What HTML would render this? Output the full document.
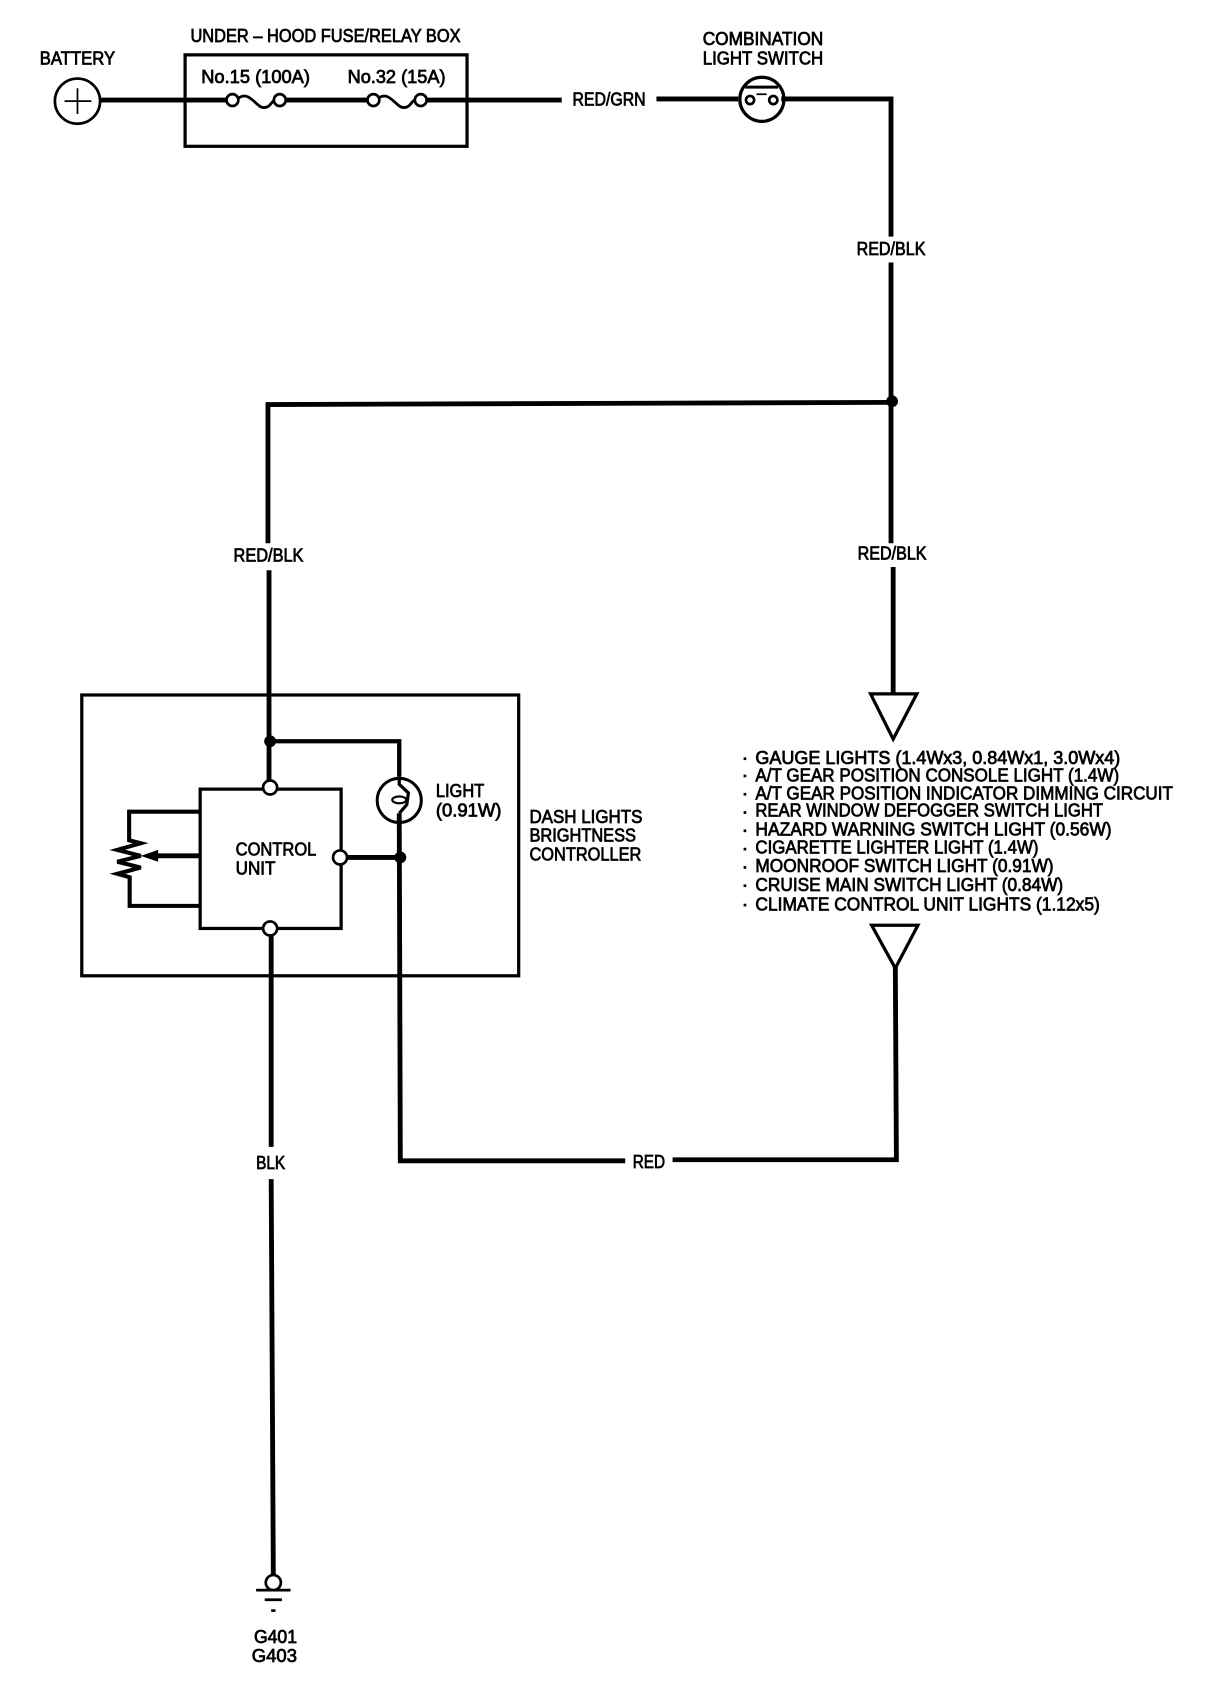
<!DOCTYPE html>
<html><head><meta charset="utf-8"><style>
html,body{margin:0;padding:0;background:#fff;width:1216px;height:1688px;overflow:hidden}
svg{display:block}
text{font-family:"Liberation Sans",sans-serif;font-size:17px;fill:#000;stroke:#000;stroke-width:.7px}
.w{fill:none;stroke:#000;stroke-width:4.5}
.t{fill:none;stroke:#000;stroke-width:3}
.c{fill:#fff;stroke:#000;stroke-width:2.5}
</style></head><body>
<svg width="1216" height="1688" viewBox="0 0 1130 1569" preserveAspectRatio="none" xmlns="http://www.w3.org/2000/svg">
<rect width="1130" height="1569" fill="#fff"/>
<!-- top row -->
<circle cx="72" cy="94" r="21" class="c"/>
<path d="M60 94H85M72 82V106" fill="none" stroke="#000" stroke-width="1.6"/>
<rect x="172" y="51" width="262" height="85" class="t"/>
<path d="M93 93H211M266 93H341M397 93H522M610 92H686" class="w"/>
<path d="M222 91C232 84 238 100 245 100C251 100 252 95 255 93M352 91C362 84 368 100 375 100C381 100 382 95 385 93" fill="none" stroke="#000" stroke-width="2.6"/>
<circle cx="216" cy="93" r="5.5" class="c"/><circle cx="260" cy="93" r="5.5" class="c"/>
<circle cx="347" cy="93" r="5.5" class="c"/><circle cx="391" cy="93" r="5.5" class="c"/>
<text x="37" y="60" textLength="70" lengthAdjust="spacingAndGlyphs">BATTERY</text>
<text x="177" y="39" textLength="251" lengthAdjust="spacingAndGlyphs">UNDER – HOOD FUSE/RELAY BOX</text>
<text x="187" y="77" textLength="101" lengthAdjust="spacingAndGlyphs">No.15 (100A)</text>
<text x="323" y="77" textLength="91" lengthAdjust="spacingAndGlyphs">No.32 (15A)</text>
<text x="532" y="98" textLength="68" lengthAdjust="spacingAndGlyphs">RED/GRN</text>
<text x="653" y="42" textLength="112" lengthAdjust="spacingAndGlyphs">COMBINATION</text>
<text x="653" y="60" textLength="112" lengthAdjust="spacingAndGlyphs">LIGHT SWITCH</text>
<!-- switch -->
<circle cx="708" cy="92.3" r="20.5" class="c" style="stroke-width:3"/>
<path d="M692.5 81H723" stroke="#000" stroke-width="2.8" fill="none"/>
<path d="M703 87.6H712.5" stroke="#000" stroke-width="1.6" fill="none"/>
<circle cx="697" cy="93" r="3.8" class="c"/><circle cx="718.6" cy="93" r="3.8" class="c"/>
<path d="M726 92H828V220M828 244V505M830 527V646" class="w"/>
<text x="796" y="237" textLength="64" lengthAdjust="spacingAndGlyphs">RED/BLK</text>
<text x="797" y="520" textLength="64" lengthAdjust="spacingAndGlyphs">RED/BLK</text>
<circle cx="829" cy="373" r="5.5" fill="#000"/>
<path d="M829 374L249 376V505M250 530V726" class="w"/>
<text x="217" y="522" textLength="65" lengthAdjust="spacingAndGlyphs">RED/BLK</text>
<path d="M809 645H852L830 687Z" class="t"/>
<!-- controller -->
<rect x="76" y="646" width="406" height="261" class="t"/>
<circle cx="251" cy="689" r="5.5" fill="#000"/>
<path d="M251 689H371V722" class="w" style="stroke-width:4"/>
<rect x="186" y="733.5" width="131" height="129.5" class="t"/>
<circle cx="371" cy="744" r="20.5" class="c" style="stroke-width:2.8"/>
<path d="M371 722V729L379.5 737L378 748L371 756" fill="none" stroke="#000" stroke-width="3"/>
<ellipse cx="371" cy="743.5" rx="6.5" ry="3.2" fill="none" stroke="#000" stroke-width="2"/>
<path d="M186 754.5H120V781L130.8 783.8L109 790L130.8 795.5L109 801L130.8 806.4L109 812.2L120.5 815.4V842H186" fill="none" stroke="#000" stroke-width="3.8" stroke-linejoin="miter"/>
<path d="M186 795.5H145" stroke="#000" stroke-width="4.5" fill="none"/>
<path d="M130.8 795.5L147 790V801Z" fill="#000"/>
<path d="M322 797H372" class="w"/>
<circle cx="372" cy="797" r="5.5" fill="#000"/>
<path d="M371 756L372 1079H581M625 1078H833L832 898" class="w"/>
<circle cx="251" cy="732" r="6.5" class="c"/>
<circle cx="316" cy="797" r="6.5" class="c"/>
<circle cx="251" cy="863" r="6.5" class="c"/>
<path d="M252 870V1066M252 1096L254 1465" class="w"/>
<text x="219" y="795" textLength="75" lengthAdjust="spacingAndGlyphs">CONTROL</text>
<text x="219" y="813" textLength="37" lengthAdjust="spacingAndGlyphs">UNIT</text>
<text x="405" y="741" textLength="45" lengthAdjust="spacingAndGlyphs">LIGHT</text>
<text x="405" y="759" textLength="61" lengthAdjust="spacingAndGlyphs">(0.91W)</text>
<text x="492" y="765" textLength="105" lengthAdjust="spacingAndGlyphs">DASH LIGHTS</text>
<text x="492" y="782" textLength="99" lengthAdjust="spacingAndGlyphs">BRIGHTNESS</text>
<text x="492" y="800" textLength="104" lengthAdjust="spacingAndGlyphs">CONTROLLER</text>
<!-- list -->
<g>
<text x="702" y="710" textLength="339" lengthAdjust="spacingAndGlyphs">GAUGE LIGHTS (1.4Wx3, 0.84Wx1, 3.0Wx4)</text>
<text x="702" y="726.5" textLength="338" lengthAdjust="spacingAndGlyphs">A/T GEAR POSITION CONSOLE LIGHT (1.4W)</text>
<text x="702" y="743" textLength="388" lengthAdjust="spacingAndGlyphs">A/T GEAR POSITION INDICATOR DIMMING CIRCUIT</text>
<text x="702" y="759" textLength="323" lengthAdjust="spacingAndGlyphs">REAR WINDOW DEFOGGER SWITCH LIGHT</text>
<text x="702" y="776.5" textLength="331" lengthAdjust="spacingAndGlyphs">HAZARD WARNING SWITCH LIGHT (0.56W)</text>
<text x="702" y="793.5" textLength="263" lengthAdjust="spacingAndGlyphs">CIGARETTE LIGHTER LIGHT (1.4W)</text>
<text x="702" y="810.5" textLength="277" lengthAdjust="spacingAndGlyphs">MOONROOF SWITCH LIGHT (0.91W)</text>
<text x="702" y="828" textLength="286" lengthAdjust="spacingAndGlyphs">CRUISE MAIN SWITCH LIGHT (0.84W)</text>
<text x="702" y="846.5" textLength="320" lengthAdjust="spacingAndGlyphs">CLIMATE CONTROL UNIT LIGHTS (1.12x5)</text>
</g>
<g fill="#000">
<rect x="691" y="704" width="2.5" height="2.5"/><rect x="691" y="720" width="2.5" height="2.5"/><rect x="691" y="737" width="2.5" height="2.5"/><rect x="691" y="754" width="2.5" height="2.5"/><rect x="691" y="771" width="2.5" height="2.5"/><rect x="691" y="788" width="2.5" height="2.5"/><rect x="691" y="805" width="2.5" height="2.5"/><rect x="691" y="822" width="2.5" height="2.5"/><rect x="691" y="840" width="2.5" height="2.5"/>
</g>
<path d="M810 860H853L832 900Z" class="t"/>
<text x="588" y="1085.5" textLength="30" lengthAdjust="spacingAndGlyphs">RED</text>
<text x="238" y="1086.5" textLength="27" lengthAdjust="spacingAndGlyphs">BLK</text>
<!-- ground -->
<circle cx="254" cy="1471" r="7" class="c"/>
<path d="M238 1478H270M246 1487H262M252 1497H256" fill="none" stroke="#000" stroke-width="2.5"/>
<text x="236" y="1527" textLength="40" lengthAdjust="spacingAndGlyphs">G401</text>
<text x="234" y="1545" textLength="42" lengthAdjust="spacingAndGlyphs">G403</text>
</svg>
</body></html>
